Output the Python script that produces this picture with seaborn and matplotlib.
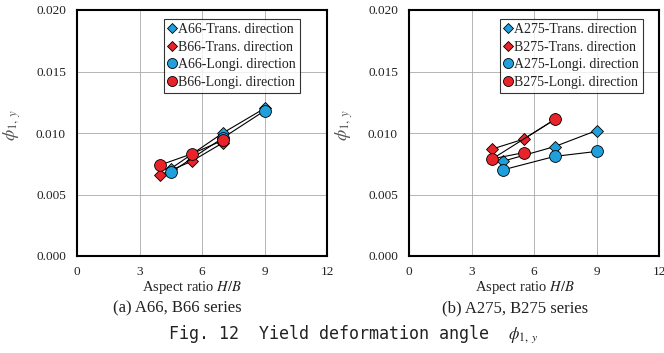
import matplotlib
matplotlib.use("Agg")
import matplotlib.pyplot as plt
import seaborn as sns
import pandas as pd
from matplotlib.lines import Line2D

# ---- data ----
a_x = [4.5, 7, 9]
b_x = [4, 5.5, 7]

# (a) A66, B66 series
a66_trans = [0.0071, 0.0100, 0.0120]
b66_trans = [0.0066, 0.0077, 0.0092]
a66_longi = [0.0068, 0.0096, 0.0118]
b66_longi = [0.0074, 0.0083, 0.0094]

# (b) A275, B275 series
a275_trans = [0.0077, 0.0089, 0.0102]
b275_trans_x = [4, 5.5, 7]
b275_trans = [0.0087, 0.0095, 0.0111]
a275_longi = [0.0070, 0.0081, 0.0085]
b275_longi_x = [5.5, 4, 7]
b275_longi = [0.0084, 0.0079, 0.0111]

labels_a = ["A66-Trans. direction", "B66-Trans. direction",
            "A66-Longi. direction", "B66-Longi. direction"]
labels_b = ["A275-Trans. direction", "B275-Trans. direction",
            "A275-Longi. direction", "B275-Longi. direction"]
subtitles = ["(a) A66, B66 series", "(b) A275, B275 series"]
xticks = [0, 3, 6, 9, 12]
yticks = [0.000, 0.005, 0.010, 0.015, 0.020]

BLUE = "#1f9fdc"
RED = "#e8232a"

sns.set_theme(style="white")
plt.rcParams['font.family'] = ['Liberation Serif', 'DejaVu Serif']
plt.rcParams['mathtext.fontset'] = 'stix'

fig = plt.figure(figsize=(6.64, 3.53), dpi=100)
W, H = 664, 353
axes = [fig.add_axes([77 / W, 1 - 256 / H, 250 / W, 246 / H]),
        fig.add_axes([409 / W, 1 - 256 / H, 250 / W, 246 / H])]

DS, CS = 6.5, 8.5
panels = [
    [(a_x, a66_trans, 'D', BLUE, DS), (b_x, b66_trans, 'D', RED, DS),
     (a_x, a66_longi, 'o', BLUE, CS), (b_x, b66_longi, 'o', RED, CS)],
    [(a_x, a275_trans, 'D', BLUE, DS), (b275_trans_x, b275_trans, 'D', RED, DS),
     (a_x, a275_longi, 'o', BLUE, CS), (b275_longi_x, b275_longi, 'o', RED, CS)],
]
legend_x = [(300 - 77) / 250, (643 - 409) / 250]

for ax, series, labels, lx in zip(axes, panels, [labels_a, labels_b], legend_x):
    for (xs, ys, m, c, ms) in series:
        df = pd.DataFrame({"x": xs, "y": ys})
        sns.lineplot(data=df, x="x", y="y", ax=ax, sort=False, color="black",
                     linewidth=0.8, marker=m, markersize=ms, markerfacecolor=c,
                     markeredgecolor="black", markeredgewidth=0.6, zorder=3)
    ax.set_xlim(0, 12)
    ax.set_ylim(0, 0.020)
    ax.set_xticks(xticks)
    ax.set_yticks(yticks)
    ax.set_xticklabels([str(t) for t in xticks], fontsize=9.5)
    ax.set_yticklabels([f"{t:.3f}" for t in yticks], fontsize=9.5)
    ax.grid(True, color="#a8a8a8", linewidth=0.6, linestyle="-")
    ax.set_axisbelow(True)
    for s in ax.spines.values():
        s.set_color("black")
        s.set_linewidth(1.5)
    ax.tick_params(axis="both", direction="in", length=4, width=1, colors="black",
                   pad=8, labelcolor="#222222")
    ax.tick_params(axis="x", length=0, pad=7)
    ax.set_xlabel("")
    ax.set_ylabel(r"$\phi_{1,\,y}$", fontsize=13, color="#555555", labelpad=0)
    ax.yaxis.set_label_coords(-0.215, 0.53)
    handles = [Line2D([], [], linestyle="none", marker=m, markersize=ms * 0.85,
                      markerfacecolor=c, markeredgecolor="black", markeredgewidth=0.6)
               for (xs, ys, m, c, ms) in series]
    leg = ax.legend(handles, labels, loc="upper right", bbox_to_anchor=(lx, 0.963),
                    fontsize=10, frameon=True, fancybox=False, handlelength=0.6,
                    handletextpad=0.15, borderpad=0.3, labelspacing=0.32,
                    borderaxespad=0.0)
    leg.get_frame().set_edgecolor("black")
    leg.get_frame().set_linewidth(0.8)
    for t in leg.get_texts():
        t.set_color("#222222")

fig.text(192 / W, 1 - 287 / H, "Aspect ratio $\\it{H/B}$", ha="center", va="center",
         fontsize=10.5, color="#222222")
fig.text(525 / W, 1 - 287 / H, "Aspect ratio $\\it{H/B}$", ha="center", va="center",
         fontsize=10.5, color="#222222")
fig.text(177 / W, 1 - 308 / H, subtitles[0], ha="center", va="center", fontsize=12,
         color="#222222")
fig.text(515 / W, 1 - 308 / H, subtitles[1], ha="center", va="center", fontsize=12,
         color="#222222")
fig.text(353 / W, 1 - 334 / H, r"Fig. 12  Yield deformation angle  $\phi_{1,\ y}$",
         ha="center", va="center", fontsize=12, family="DejaVu Sans Mono",
         color="#222222")

fig.savefig("out.png", dpi=100)
